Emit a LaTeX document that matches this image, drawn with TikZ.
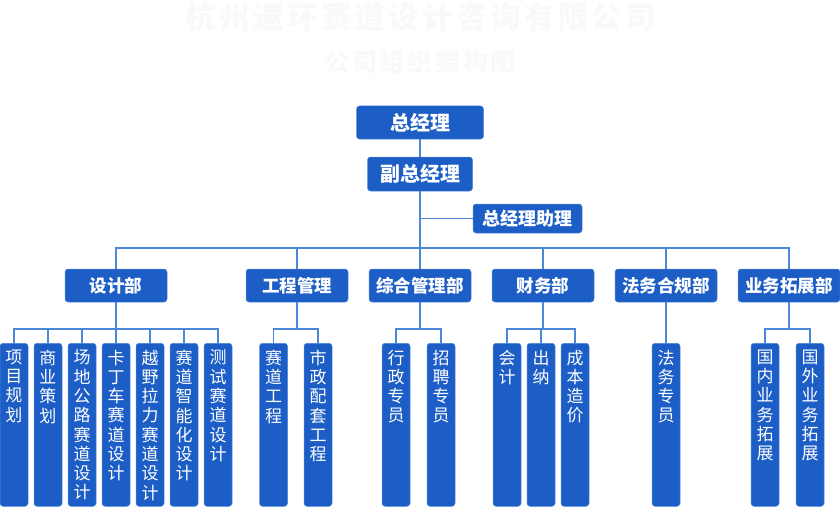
\documentclass[tikz,border=0pt]{standalone}
\usepackage{fontspec}
\setmainfont{Noto Sans CJK SC}
\newfontfamily\titlefont[LetterSpace=11]{Noto Sans CJK SC}
\usepackage{tikz}
\usetikzlibrary{shapes,arrows}
\definecolor{boxblue}{RGB}{28,94,198}
\definecolor{edgeblue}{RGB}{76,135,217}
\definecolor{titlegray}{RGB}{249,249,249}
\tikzstyle{block} = [rectangle, draw=edgeblue, line width=0.5pt, fill=boxblue, text=white,
    rounded corners=3pt, minimum width=102pt, minimum height=33pt, inner sep=0pt,
    font=\fontsize{17.5pt}{20pt}\selectfont\bfseries]
\tikzstyle{boss} = [block, font=\fontsize{20pt}{22pt}\selectfont\bfseries]
\tikzstyle{leaf} = [rectangle, draw=edgeblue, line width=0.5pt, fill=boxblue, text=white,
    rounded corners=3pt, minimum width=28pt, inner xsep=0pt, inner ysep=6.5pt, anchor=north,
    font=\fontsize{17pt}{19.3pt}\selectfont]
\tikzstyle{title} = [text=titlegray, inner sep=0pt, font=\titlefont\bfseries]
\tikzstyle{line} = [draw=edgeblue, line width=1.5pt]
\newcommand{\vt}[1]{\parbox[t][150pt][t]{28pt}{\centering #1}}

\begin{document}
\begin{tikzpicture}[x=1pt, y=-1pt]
    \useasboundingbox (0,0) rectangle (840,508);
    % Title
    \node [title, font=\titlefont\bfseries\fontsize{30.5pt}{32pt}\selectfont] (company) at (421,17) {杭州速环赛道设计咨询有限公司};
    \node [title, font=\titlefont\bfseries\fontsize{25pt}{27pt}\selectfont] (chart) at (420,62) {公司组织架构图};
    % Place nodes
    \node [boss, minimum width=127pt] (gm) at (420,122.5) {总经理};
    \node [boss, minimum width=105pt, minimum height=34pt] (vgm) at (420,174) {副总经理};
    \node [block, minimum width=109pt, minimum height=29pt, font=\fontsize{18pt}{20pt}\selectfont\bfseries] (assistant) at (527.5,218.5) {总经理助理};
    \coordinate (bus) at (420,248);
    \node [block] (design) at (116,285.5) {设计部};
    \node [block] (eng) at (297,285.5) {工程管理};
    \node [block] (admin) at (420,285.5) {综合管理部};
    \node [block] (finance) at (543,285.5) {财务部};
    \node [block] (legal) at (666,285.5) {法务合规部};
    \node [block] (biz) at (789,285.5) {业务拓展部};
    % Leaves
    \node [leaf] (design1) at (14,343) {\vt{项\\目\\规\\划}};
    \node [leaf] (design2) at (48,343) {\vt{商\\业\\策\\划}};
    \node [leaf] (design3) at (82,343) {\vt{场\\地\\公\\路\\赛\\道\\设\\计}};
    \node [leaf] (design4) at (116,343) {\vt{卡\\丁\\车\\赛\\道\\设\\计}};
    \node [leaf] (design5) at (150,343) {\vt{越\\野\\拉\\力\\赛\\道\\设\\计}};
    \node [leaf] (design6) at (184,343) {\vt{赛\\道\\智\\能\\化\\设\\计}};
    \node [leaf] (design7) at (218,343) {\vt{测\\试\\赛\\道\\设\\计}};
    \node [leaf] (eng1) at (273.5,343) {\vt{赛\\道\\工\\程}};
    \node [leaf] (eng2) at (318,343) {\vt{市\\政\\配\\套\\工\\程}};
    \node [leaf] (admin1) at (396,343) {\vt{行\\政\\专\\员}};
    \node [leaf] (admin2) at (441,343) {\vt{招\\聘\\专\\员}};
    \node [leaf] (finance1) at (507,343) {\vt{会\\计}};
    \node [leaf] (finance2) at (541,343) {\vt{出\\纳}};
    \node [leaf] (finance3) at (575,343) {\vt{成\\本\\造\\价}};
    \node [leaf] (legal1) at (666,343) {\vt{法\\务\\专\\员}};
    \node [leaf] (biz1) at (765,343) {\vt{国\\内\\业\\务\\拓\\展}};
    \node [leaf] (biz2) at (810,343) {\vt{国\\外\\业\\务\\拓\\展}};
    \coordinate (designbus) at (116,329);
    \coordinate (engbus) at (297,329);
    \coordinate (adminbus) at (420,329);
    \coordinate (financebus) at (543,329);
    \coordinate (bizbus) at (789,329);
    % Draw edges
    \path [line] (gm) -- (vgm);
    \path [line] (vgm) |- (assistant);
    \path [line] (vgm) -- (bus);
    \foreach \dept in {design, eng, admin, finance, legal, biz}
        \path [line] (bus) -| (\dept);
    \path [line] (design) -- (designbus);
    \foreach \i in {1,...,7}
        \path [line] (designbus) -| (design\i);
    \path [line] (eng) -- (engbus);
    \path [line] (engbus) -| (eng1);
    \path [line] (engbus) -| (eng2);
    \path [line] (admin) -- (adminbus);
    \path [line] (adminbus) -| (admin1);
    \path [line] (adminbus) -| (admin2);
    \path [line] (finance) -- (financebus);
    \foreach \i in {1,2,3}
        \path [line] (financebus) -| (finance\i);
    \path [line] (legal) -- (legal1);
    \path [line] (biz) -- (bizbus);
    \path [line] (bizbus) -| (biz1);
    \path [line] (bizbus) -| (biz2);
\end{tikzpicture}
\end{document}
